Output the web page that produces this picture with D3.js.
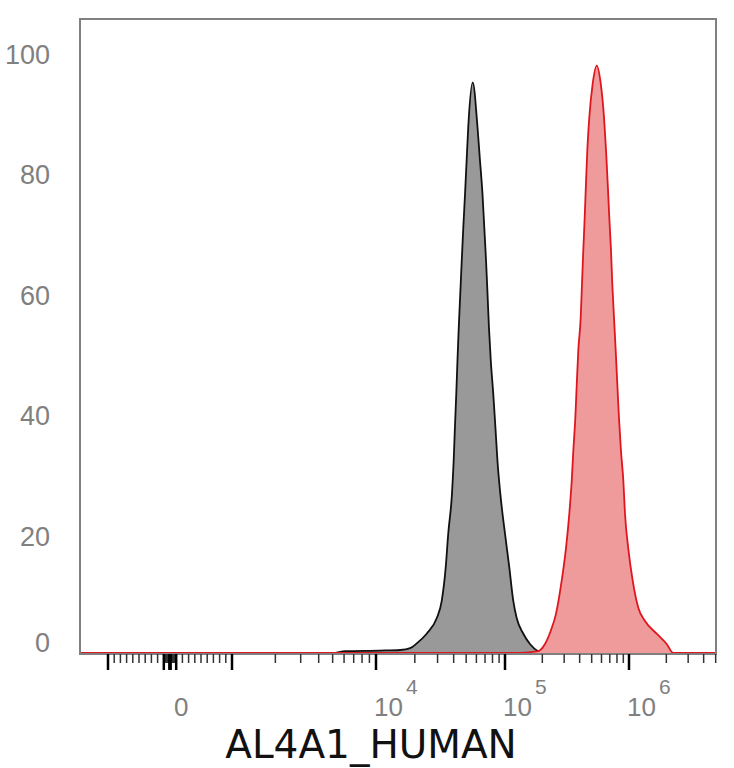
<!DOCTYPE html>
<html>
<head>
<meta charset="utf-8">
<script src="https://cdn.jsdelivr.net/npm/d3@7"></script>
<style>
  body { margin: 0; background: #fff; }
  svg { display: block; }
</style>
</head>
<body>
<svg id="chart" width="734" height="768"></svg>
<script>
// control histogram (grey) - intensity and % of max
const greyIntensity = [-1500, 5000, 6100, 10700, 15400, 18400, 20700, 24700, 29600, 32300, 34700, 36300,
  38800, 40000, 40900, 41900, 42800, 43800, 45000, 46200, 47500, 49000, 50400, 51900, 56200,
  61200, 64000, 66900, 69100, 71300, 73200, 75100, 77600, 81100, 84300, 87400, 92000, 100000,
  108300, 116700, 124200, 140500, 159000, 184600, 200000, 5000000];
const greyValues = [0, 0, 0.3, 0.4, 0.5, 0.8, 1.6, 3.2, 5.8, 8.6, 14.2, 19.8,
  26.4, 31.9, 37.4, 43.0, 48.5, 54.0, 59.6, 65.1, 70.6, 76.2, 81.7, 87.3, 94.7,
  87.3, 81.7, 76.2, 70.6, 65.1, 59.6, 54.0, 48.5, 43.0, 37.4, 31.9, 26.4, 19.8,
  14.2, 8.6, 5.8, 3.2, 1.5, 0.3, 0, 0];

// stained histogram (red)
const redIntensity = [-1500, 132000, 184700, 210000, 234000, 257700, 286500, 310300, 330000, 345200,
  355700, 369100, 379000, 390000, 407900, 417600, 427900, 439200, 449700, 461100, 478500, 509500,
  549200, 591800, 628600, 653000, 673500, 693500, 715800, 733500, 756700, 781200, 805000, 829800,
  861000, 900000, 928400, 986000, 1071000, 1188000, 1346000, 1671000, 2013000, 2276000, 5000000];
const redValues = [0, 0, 0.3, 1.5, 3.7, 6.5, 12.0, 17.4, 23.1, 28.6,
  33.6, 39.1, 44.6, 50.2, 55.7, 61.2, 66.8, 72.3, 77.9, 83.4, 88.9, 94.5,
  97.5, 94.5, 88.9, 83.4, 77.9, 72.3, 66.8, 61.2, 55.7, 50.2, 44.6, 39.1,
  33.6, 28.6, 23.1, 17.4, 12.0, 7.5, 5.3, 3.2, 1.5, 0, 0];

const yTickValues = [0, 20, 40, 60, 80, 100];
const xLabelValues = [0, 1e4, 1e5, 1e6];
const xLabelBase = ['0', '10', '10', '10'];
const xLabelExp = ['', '4', '5', '6'];
const axisTitle = 'AL4A1_HUMAN';

const svg = d3.select('#chart');

// plot box
const boxLeft = 80, boxTop = 19, boxRight = 716, boxBottom = 654;

// biexponential-like display transform: linear up to 1000, log10 above
function biex(v) {
    if (v <= 1000) return v / 1000;
    return 1 + Math.log10(v / 1000);
}

const xScale = d3.scaleLinear()
    .domain([-1, 0, 1, 2, 3, 4])
    .range([108, 170, 232, 376, 505, 629]);
const x = v => xScale(biex(v));

const y = d3.scaleLinear().domain([0, 100]).range([653, 50.5]);

// clip so the curves stay inside the box
svg.append('clipPath').attr('id', 'plotClip')
    .append('rect')
    .attr('x', boxLeft).attr('y', boxTop)
    .attr('width', boxRight - boxLeft).attr('height', boxBottom - boxTop);

const plot = svg.append('g').attr('clip-path', 'url(#plotClip)');

function drawHist(xs, ys, fill, stroke) {
    const pts = xs.map((v, i) => [v, ys[i]]);
    const area = d3.area()
        .x(d => x(d[0]))
        .y0(y(0))
        .y1(d => y(d[1]))
        .curve(d3.curveMonotoneX);
    const line = d3.line()
        .x(d => x(d[0]))
        .y(d => y(d[1]))
        .curve(d3.curveMonotoneX);
    plot.append('path').attr('d', area(pts)).attr('fill', fill);
    plot.append('path').attr('d', line(pts))
        .attr('fill', 'none')
        .attr('stroke', stroke)
        .attr('stroke-width', 1.8)
        .attr('stroke-linejoin', 'round');
}

drawHist(greyIntensity, greyValues, '#999999', '#111111');
drawHist(redIntensity, redValues, '#ef9a9b', '#e0161e');

// frame
svg.append('rect')
    .attr('x', boxLeft).attr('y', boxTop)
    .attr('width', boxRight - boxLeft).attr('height', boxBottom - boxTop)
    .attr('fill', 'none')
    .attr('stroke', '#808080')
    .attr('stroke-width', 2);

// x ticks: major at decades, minor in between
const majorTicks = [-1000, -100, -10, 0, 10, 100, 1000, 1e4, 1e5, 1e6];
const minorTicks = [];
[1, 10, 100].forEach(p => {
    d3.range(2, 10).forEach(k => { minorTicks.push(k * p); minorTicks.push(-k * p); });
});
[1000, 1e4, 1e5, 1e6].forEach(p => {
    d3.range(2, 10).forEach(k => minorTicks.push(k * p));
});

const tickG = svg.append('g');
tickG.selectAll('line.minor')
    .data(minorTicks.filter(v => x(v) > boxLeft && x(v) < boxRight))
    .enter().append('line')
    .attr('class', 'minor')
    .attr('x1', d => x(d)).attr('x2', d => x(d))
    .attr('y1', boxBottom).attr('y2', boxBottom + 9)
    .attr('stroke', '#333')
    .attr('stroke-width', 1.5);
tickG.selectAll('line.major')
    .data(majorTicks)
    .enter().append('line')
    .attr('class', 'major')
    .attr('x1', d => x(d)).attr('x2', d => x(d))
    .attr('y1', boxBottom).attr('y2', boxBottom + 16)
    .attr('stroke', '#000')
    .attr('stroke-width', 2.5);

// x labels, 10 with superscript exponent in one text element
const xl = svg.append('g')
    .attr('font-family', '"Liberation Sans", Arial, sans-serif')
    .attr('fill', '#808080');
xLabelValues.forEach((v, i) => {
    const px = x(v) + (v === 0 ? 4 : -2);
    const t = xl.append('text')
        .attr('x', px).attr('y', 716)
        .attr('font-size', 26);
    t.append('tspan').text(xLabelBase[i]);
    if (xLabelExp[i]) {
        t.append('tspan')
            .attr('dx', 3).attr('dy', -22)
            .attr('font-size', 21)
            .text(xLabelExp[i]);
    }
});

// y labels (no tick marks)
svg.append('g')
    .attr('font-family', '"Liberation Sans", Arial, sans-serif')
    .attr('font-size', 27)
    .attr('fill', '#808080')
    .attr('text-anchor', 'end')
    .selectAll('text')
    .data(yTickValues)
    .enter().append('text')
    .attr('x', 50)
    .attr('y', d => d === 0 ? y(d) - 1 : y(d) + 13)
    .text(d => d);

// axis title
svg.append('text')
    .attr('x', 371).attr('y', 758)
    .attr('text-anchor', 'middle')
    .attr('font-family', '"DejaVu Sans", sans-serif')
    .attr('font-size', 39)
    .attr('fill', '#111')
    .text(axisTitle);
</script>
</body>
</html>
